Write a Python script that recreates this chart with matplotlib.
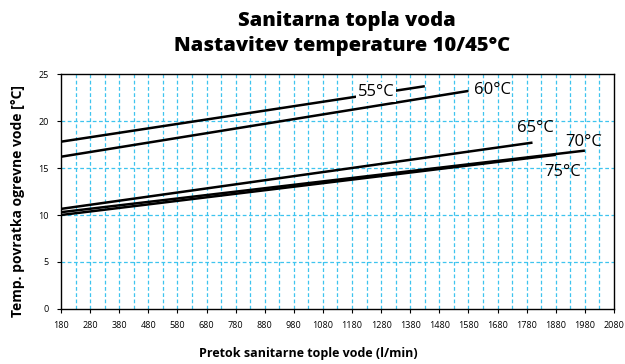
import matplotlib.pyplot as plt
import numpy as np

# Temperatura ogrevne vode (krivulje) in odčitane točke
labels = ["55°C", "60°C", "65°C", "70°C", "75°C"]
flow_start = [180, 180, 180, 180, 180]
flow_end = [1430, 1580, 1800, 1980, 1880]
temp_start = [17.8, 16.2, 10.65, 10.3, 10.0]
temp_end = [23.7, 23.2, 17.7, 16.85, 16.4]

# Položaji oznak krivulj (pretok, temperatura)
label_x = [1262, 1600, 1810, 1975, 1905]
label_y = [23.1, 23.3, 19.3, 17.8, 14.6]
label_ha = ["center", "left", "center", "center", "center"]

x_ticks = list(range(180, 2081, 100))
y_ticks = [0, 5, 10, 15, 20, 25]

plt.rcParams['font.family'] = ['Open Sans', 'DejaVu Sans']

fig = plt.figure(figsize=(6.25, 3.64), dpi=100)
ax = fig.add_axes([0.0976, 0.1511, 0.8848, 0.6456])

grid_color = "#3ec4ef"
for gx in np.arange(230, 2080, 50):
    ax.axvline(gx, color=grid_color, lw=0.9, ls=(0, (3, 2)), zorder=1)
for gy in [5, 10, 15, 20]:
    ax.axhline(gy, color=grid_color, lw=0.9, ls=(0, (3, 2)), zorder=1)

for i in range(len(labels)):
    ax.plot([flow_start[i], flow_end[i]], [temp_start[i], temp_end[i]],
            color="black", lw=1.8, solid_capstyle="butt", zorder=3)
    bbox = None
    if i == 0:
        bbox = dict(facecolor="white", edgecolor="none", pad=1.5)
    ax.text(label_x[i], label_y[i], labels[i], ha=label_ha[i], va="center",
            fontsize=12, color="black", bbox=bbox, zorder=4)

ax.set_xlim(180, 2080)
ax.set_ylim(0, 25)
ax.set_xticks(x_ticks)
ax.set_yticks(y_ticks)
ax.tick_params(axis="both", direction="out", length=3, width=0.8, labelsize=6.5, pad=6)
for s in ax.spines.values():
    s.set_linewidth(1.0)

fig.text(0.555, 0.942, "Sanitarna topla voda", ha="center", va="center",
         fontsize=14.5, fontweight="heavy")
fig.text(0.548, 0.874, "Nastavitev temperature 10/45°C", ha="center", va="center",
         fontsize=14.5, fontweight="heavy")
fig.text(0.493, 0.030, "Pretok sanitarne tople vode (l/min)", ha="center", va="center",
         fontsize=9, fontweight="bold")
fig.text(0.029, 0.448, "Temp. povratka ogrevne vode [°C]", ha="center", va="center",
         fontsize=10, fontweight="bold", rotation=90)

fig.savefig("out.png", dpi=100)
